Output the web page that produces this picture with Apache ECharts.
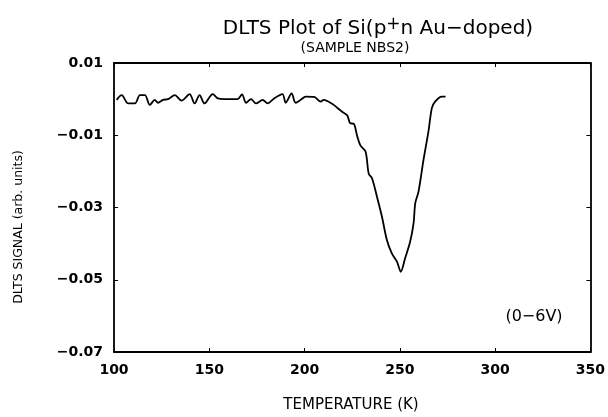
<!DOCTYPE html>
<html>
<head>
<meta charset="utf-8">
<script src="https://cdn.jsdelivr.net/npm/echarts@6/dist/echarts.min.js"></script>
<style>
    html, body { margin: 0; padding: 0; background: #fff; }
    #main { width: 608px; height: 417px; }
</style>
</head>
<body>
<div id="main"></div>
<script>
// temperature (K) and DLTS signal
var temperature = [101.4, 104, 107.5, 111, 113.6, 116.2, 118.8, 121.4, 123.1, 125.7, 128.4, 131.9, 135.4,
    139.7, 142.3, 144.9, 147.5, 151.8, 154.5, 158, 164.9, 167.2, 169.3, 171.9, 174.5, 178, 180.6, 184,
    188.4, 190.1, 193.2, 195.3, 198, 200.6, 205, 208.5, 210, 214.5, 219.7, 222.4, 224, 225.8, 227.6,
    229.3, 232, 233.7, 235.4, 238, 240.6, 243.2, 245.8, 248.5, 250.5, 252.8, 255.4, 257.2, 258.1,
    259.8, 262.4, 265, 266.8, 268.5, 272, 274];
var signal = [-0.0002, 0.0011, -0.0012, -0.0012, 0.0011, 0.0011, -0.0016, -0.0002, -0.001, -0.0002, 0, 0.0011, -0.0004,
    0.0014, -0.0012, 0.0011, -0.0012, 0.0014, 0.0002, 0, 0, 0.0013, -0.001, 0, -0.0012, -0.0002, -0.0012, 0.0002,
    0.0014, -0.001, 0.0016, -0.001, -0.0002, 0.0007, 0.0006, -0.0007, -0.0002, -0.0013, -0.0035, -0.0045, -0.0067, -0.0068, -0.0102,
    -0.0128, -0.0145, -0.0207, -0.0219, -0.027, -0.0325, -0.039, -0.0427, -0.045, -0.0478, -0.044, -0.0395, -0.0344, -0.0288,
    -0.0256, -0.0169, -0.009, -0.0025, -0.0007, 0.0007, 0.0007];
var xTicks = [100, 350, 50];      // min, max, step
var yTicks = [-0.07, 0.01, 0.02];

var FONT = '"DejaVu Sans", "Liberation Sans", sans-serif';

function fmtY(v) {
    var s = Math.abs(v).toFixed(2);
    return v < -1e-9 ? '\u2212' + s : s;
}

var pts = [];
for (var i = 0; i < temperature.length; i++) {
    pts.push([temperature[i], signal[i]]);
}

var chart = echarts.init(document.getElementById('main'), null, {renderer: 'canvas'});

var baseX = {
    type: 'value', min: xTicks[0], max: xTicks[1], interval: xTicks[2],
    axisLine: {show: true, onZero: false, lineStyle: {color: '#000', width: 1.8}},
    axisTick: {show: true, inside: true, length: 4, lineStyle: {color: '#000'}},
    splitLine: {show: false}
};
var baseY = {
    type: 'value', min: yTicks[0], max: yTicks[1], interval: yTicks[2],
    axisLine: {show: true, onZero: false, lineStyle: {color: '#000', width: 1.8}},
    axisTick: {show: true, inside: true, length: 4, lineStyle: {color: '#000'}},
    splitLine: {show: false}
};

var option = {
    animation: false,
    title: [{
        text: 'DLTS Plot of Si(p{sup|+}n Au\u2212doped)',
        left: 373, top: 11, textAlign: 'center',
        textStyle: {
            fontFamily: FONT, fontSize: 20, fontWeight: 'normal', color: '#000',
            rich: {sup: {fontFamily: FONT, fontSize: 17, color: '#000', padding: [0, 0, 8, 0], verticalAlign: 'bottom'}}
        }
    }, {
        text: '(SAMPLE NBS2)',
        left: 350, top: 36, textAlign: 'center',
        textStyle: {fontFamily: FONT, fontSize: 14, fontWeight: 'normal', color: '#000'}
    }],
    grid: {left: 114, right: 15, top: 63, bottom: 65, containLabel: false},
    xAxis: [
        echarts.util.merge({
            position: 'bottom',
            axisLabel: {color: '#000', fontFamily: FONT, fontSize: 14, fontWeight: 'bold', margin: 11}
        }, baseX, true),
        echarts.util.merge({position: 'top', axisLabel: {show: false}}, baseX, true)
    ],
    yAxis: [
        echarts.util.merge({
            position: 'left',
            axisLabel: {color: '#000', fontFamily: FONT, fontSize: 14, fontWeight: 'bold', margin: 11, formatter: fmtY}
        }, baseY, true),
        echarts.util.merge({position: 'right', axisLabel: {show: false}}, baseY, true)
    ],
    graphic: [{
        type: 'text', x: 351, y: 405,
        style: {text: 'TEMPERATURE (K)', font: '15px ' + FONT, fill: '#000',
            textAlign: 'center', textVerticalAlign: 'middle'}
    }, {
        type: 'text', x: 19, y: 227, rotation: Math.PI / 2,
        style: {text: 'DLTS SIGNAL (arb. units)', font: '12.5px ' + FONT, fill: '#000',
            textAlign: 'center', textVerticalAlign: 'middle'}
    }, {
        type: 'text', x: 534, y: 317,
        style: {text: '(0\u22126V)', font: '16px ' + FONT, fill: '#000',
            textAlign: 'center', textVerticalAlign: 'middle'}
    }],
    series: [{
        type: 'line',
        data: pts,
        showSymbol: false,
        smooth: 0.3,
        lineStyle: {color: '#000', width: 1.8}
    }]
};

chart.setOption(option);
</script>
</body>
</html>
